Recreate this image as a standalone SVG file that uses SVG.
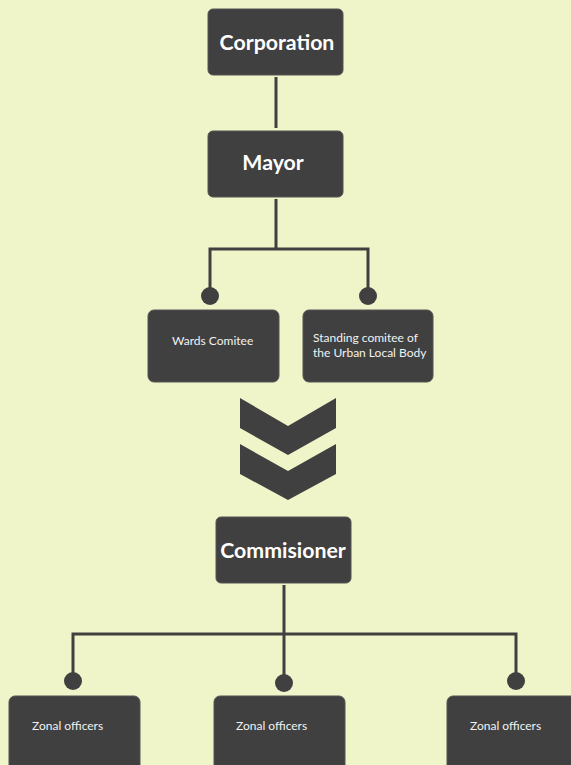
<svg xmlns="http://www.w3.org/2000/svg" width="571" height="765" viewBox="0 0 571 765">
<style>
.box{fill:#404040;stroke:#555;stroke-width:1}
.big{font-family:Lato,"Liberation Sans",sans-serif;font-weight:bold;font-size:21.3px;fill:#fff;text-anchor:middle}
.sm{font-family:Lato,"Liberation Sans",sans-serif;font-size:12px;fill:#f2f2f2}
.ln{stroke:#404040;stroke-width:3;fill:none}
.dot{fill:#404040}
</style>
<rect width="571" height="765" fill="#F0F4C9"/>
<g id="connectors">
<line class="ln" x1="276" y1="77" x2="276" y2="128"/>
<path class="ln" d="M276 199 V249 M210 296 V249 H368 V296"/>
<circle class="dot" cx="210" cy="296" r="9"/>
<circle class="dot" cx="368" cy="296" r="9"/>
<path class="ln" d="M284 585 V682 M73 682 V634 H516 V682"/>
<circle class="dot" cx="73" cy="681" r="9"/>
<circle class="dot" cx="284" cy="683" r="9"/>
<circle class="dot" cx="516" cy="681" r="9"/>
<polygon class="dot" points="240,398 288,426 336,398 336,428 288,455 240,428"/>
<polygon class="dot" points="240,444 288,471 336,444 336,474 288,500 240,474"/>
</g>
<g id="corporation"><rect class="box" x="208" y="9" width="135" height="66" rx="5"/><text class="big" x="277" y="50">Corporation</text></g>
<g id="mayor"><rect class="box" x="208" y="131" width="135" height="66" rx="5"/><text class="big" x="273" y="170">Mayor</text></g>
<g id="wards"><rect class="box" x="148" y="310" width="131" height="72" rx="6"/><text class="sm" x="172" y="345">Wards Comitee</text></g>
<g id="standing"><rect class="box" x="303" y="310" width="130" height="72" rx="6"/><text class="sm" x="313" y="342">Standing comitee of</text><text class="sm" x="313" y="357">the Urban Local Body</text></g>
<g id="commisioner"><rect class="box" x="216" y="517" width="135" height="66" rx="5"/><text class="big" x="283" y="558">Commisioner</text></g>
<g id="zonal1"><rect class="box" x="9" y="696" width="131" height="75" rx="6"/><text class="sm" x="32" y="730">Zonal officers</text></g>
<g id="zonal2"><rect class="box" x="214" y="696" width="131" height="75" rx="6"/><text class="sm" x="236" y="730">Zonal officers</text></g>
<g id="zonal3"><rect class="box" x="447" y="696" width="131" height="75" rx="6"/><text class="sm" x="470" y="730">Zonal officers</text></g>
</svg>
